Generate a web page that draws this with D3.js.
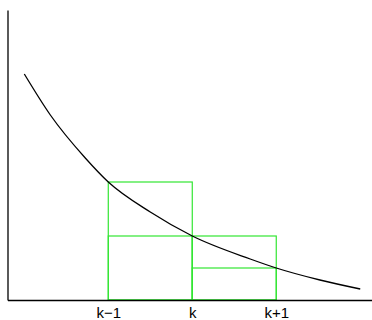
<!DOCTYPE html>
<html>
<head>
<meta charset="utf-8">
<script src="https://cdn.jsdelivr.net/npm/d3@7"></script>
<style>
  body { margin: 0; background: #fff; }
  svg { display: block; }
</style>
</head>
<body>
<div id="chart"></div>
<script>
// curve samples
const curveX = [0, 0.31, 0.726, 1, 1.5, 2, 2.69, 3, 3.52, 4]
const curveY = [2.26, 1.85, 1.42, 1.18, 0.88, 0.64, 0.41, 0.32, 0.20, 0.11]

// step rectangles: [x0, x1, height]
const rectX0 = [1, 1, 2, 2]
const rectX1 = [2, 2, 3, 3]
const rectH = [1.18, 0.64, 0.64, 0.32]

const tickValues = [1, 2, 3]
const tickLabels = ["k\u22121", "k", "k+1"]

const width = 372, height = 320

const svg = d3.select("#chart")
    .append("svg")
    .attr("width", width)
    .attr("height", height)

const x = d3.scaleLinear().domain([-0.2, 4.14]).range([7.5, 372])
const y = d3.scaleLinear().domain([0, 2.9]).range([300, 10])

// rectangles
svg.selectAll("rect.step")
    .data(rectH.map((h, i) => ({x0: rectX0[i], x1: rectX1[i], h})))
    .enter()
    .append("rect")
    .attr("class", "step")
    .attr("x", d => x(d.x0))
    .attr("y", d => y(d.h))
    .attr("width", d => x(d.x1) - x(d.x0))
    .attr("height", d => y(0) - y(d.h))
    .attr("fill", "none")
    .attr("stroke", "#33e633")
    .attr("stroke-width", 1.2)

// curve
const line = d3.line()
    .x(d => x(d[0]))
    .y(d => y(d[1]))
    .curve(d3.curveMonotoneX)

svg.append("path")
    .datum(curveX.map((v, i) => [v, curveY[i]]))
    .attr("d", line)
    .attr("fill", "none")
    .attr("stroke", "#000")
    .attr("stroke-width", 1.3)

// x axis
const xAxis = svg.append("g")
    .attr("transform", `translate(0,${y(0)})`)
    .call(d3.axisBottom(x)
        .tickValues(tickValues)
        .tickFormat((d, i) => tickLabels[i])
        .tickSize(0)
        .tickSizeOuter(0)
        .tickPadding(7))
xAxis.select(".domain").attr("stroke", "#000").attr("stroke-width", 1.3)
xAxis.selectAll("text")
    .attr("font-family", "Liberation Sans, Arial, sans-serif")
    .attr("font-size", 15)
    .attr("fill", "#000")

// y axis (line only)
const yAxis = svg.append("g")
    .attr("transform", `translate(${x(-0.2)},0)`)
    .call(d3.axisLeft(y).tickValues([]).tickSizeOuter(0))
yAxis.select(".domain").attr("stroke", "#000").attr("stroke-width", 1.3)
</script>
</body>
</html>
